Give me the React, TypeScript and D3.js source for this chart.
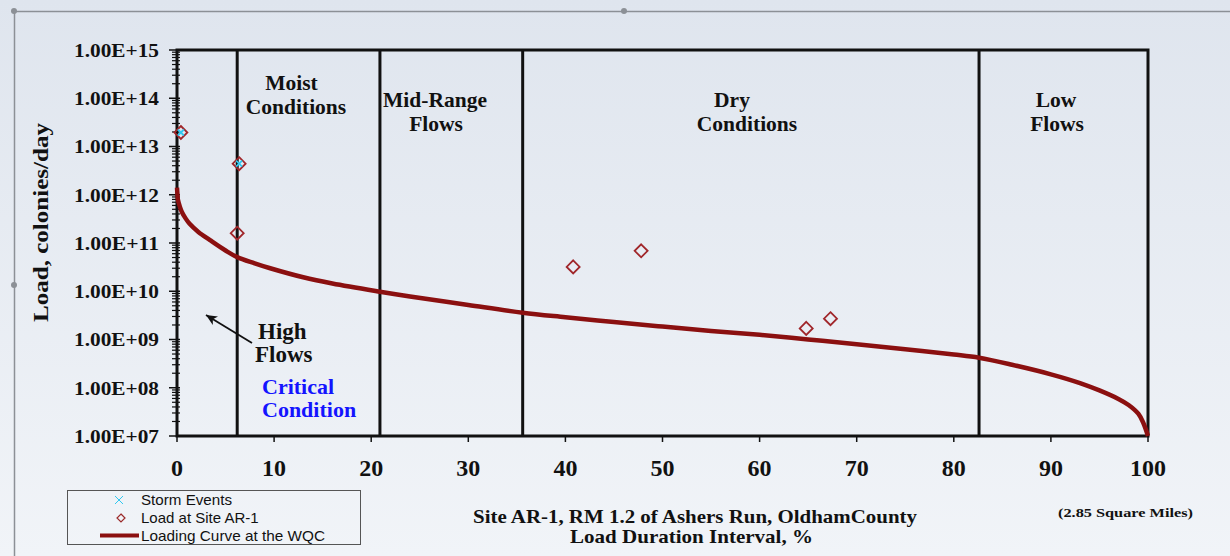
import React from "react";
import * as d3 from "d3";

const curveX = [0, 0.05, 0.1, 0.3, 0.5, 0.9, 1.3, 2.2, 3.4, 5, 6.2, 8, 9.6, 13, 16, 20.9, 24, 30, 35.6, 40, 45, 50, 55, 60, 65, 70, 75, 80, 82.6, 86, 90, 93, 95, 97, 98, 99, 99.5, 100];
const curveY = [1.4e12, 1.0e12, 7.8e11, 5.6e11, 4.4e11, 3.2e11, 2.5e11, 1.7e11, 1.15e11, 7e10, 5.1e10, 3.8e10, 3.0e10, 1.95e10, 1.45e10, 9.8e9, 7.8e9, 5.2e9, 3.6e9, 2.9e9, 2.3e9, 1.85e9, 1.5e9, 1.25e9, 1.0e9, 8e8, 6.3e8, 4.9e8, 4.2e8, 3.0e8, 1.9e8, 1.25e8, 8.8e7, 5.8e7, 4.4e7, 2.9e7, 1.9e7, 1e7];
const loadX = [0.4, 6.4, 6.2, 40.8, 47.8, 64.8, 67.3];
const loadY = [1.95e13, 4.4e12, 1.6e11, 3.2e10, 6.9e10, 1.7e9, 2.7e9];
const stormX = [0.4, 6.4];
const stormY = [1.95e13, 4.4e12];
const boundaries = [6.2, 20.9, 35.6, 82.6];
const xTicks = [0, 10, 20, 30, 40, 50, 60, 70, 80, 90, 100];
const yTicks = [1e7, 1e8, 1e9, 1e10, 1e11, 1e12, 1e13, 1e14, 1e15];

const W = 1230, H = 556;
const L = 177, R = 1148, T = 50, B = 436;

export default function App() {
  const x = d3.scaleLinear().domain([0, 100]).range([L, R]);
  const y = d3.scaleLog().domain([1e7, 1e15]).range([B, T]);
  const line = d3.line<number>().x((_, i) => x(curveX[i])).y((d) => y(d)).curve(d3.curveCatmullRom.alpha(0.5));
  const minor: number[] = [];
  for (let e = 7; e < 15; e++) for (let m = 2; m <= 9; m++) minor.push(m * Math.pow(10, e));
  const fmt = (v: number) => "1.00E+" + String(Math.round(Math.log10(v))).padStart(2, "0");
  const serif = "'Liberation Serif', 'Times New Roman', serif";
  const sans = "'Liberation Sans', Arial, sans-serif";
  const dia = (cx: number, cy: number, r: number) => `M${cx},${cy - r}L${cx + r},${cy}L${cx},${cy + r}L${cx - r},${cy}Z`;
  return (
    <svg width={W} height={H} style={{ position: "absolute", left: 0, top: 0 }} fontFamily={serif}>
      <defs>
        <linearGradient id="bg" x1="0" y1="0" x2="0" y2="1">
          <stop offset="0" stopColor="#dfe5ee" />
          <stop offset="1" stopColor="#f1f4f8" />
        </linearGradient>
        <marker id="ah" markerWidth={12} markerHeight={10} refX={11} refY={5} orient="auto" markerUnits="userSpaceOnUse">
          <path d="M11,5L0,0L3,5L0,10Z" fill="#111" />
        </marker>
      </defs>
      <rect x={0} y={0} width={W} height={H} fill="url(#bg)" />
      <line x1={14} y1={11.5} x2={W} y2={11.5} stroke="#8c9096" strokeWidth={1.5} />
      <line x1={14.5} y1={11} x2={14.5} y2={H} stroke="#8c9096" strokeWidth={1.5} />
      <circle cx={14} cy={11} r={3} fill="#8c9096" />
      <circle cx={624} cy={11} r={3} fill="#8c9096" />
      <circle cx={14} cy={285} r={3} fill="#8c9096" />

      {/* plot frame */}
      <rect x={L} y={T} width={R - L} height={B - T} fill="none" stroke="#111" strokeWidth={3} />
      {boundaries.map((b) => (
        <line key={b} x1={x(b)} x2={x(b)} y1={T} y2={B} stroke="#111" strokeWidth={3} />
      ))}
      {/* y ticks */}
      {minor.map((m) => (
        <line key={m} x1={L - 5} x2={L + 3} y1={y(m)} y2={y(m)} stroke="#111" strokeWidth={1.2} />
      ))}
      {yTicks.map((t) => (
        <g key={t}>
          <line x1={L - 8} x2={L + 3} y1={y(t)} y2={y(t)} stroke="#111" strokeWidth={1.5} />
          <text x={159} y={y(t)} dy="0.35em" textAnchor="end" fontWeight="bold" fontSize={19.5} textLength={85} lengthAdjust="spacingAndGlyphs" fill="#111">{fmt(t)}</text>
        </g>
      ))}
      {xTicks.map((t) => (
        <g key={t}>
          <line x1={x(t)} x2={x(t)} y1={B} y2={B + 6} stroke="#111" strokeWidth={1.5} />
          <text x={x(t)} y={476} textAnchor="middle" fontWeight="bold" fontSize={24} fill="#111">{t}</text>
        </g>
      ))}
      <text transform="translate(48,222.5) rotate(-90)" textAnchor="middle" fontWeight="bold" fontSize={22} textLength={199} lengthAdjust="spacingAndGlyphs" fill="#111">Load, colonies/day</text>

      {/* region labels */}
      <g fontWeight="bold" fontSize={21.5} fill="#111" textAnchor="middle">
        <text x={291.5} y={90}>Moist</text>
        <text x={296} y={114}>Conditions</text>
        <text x={435} y={107}>Mid-Range</text>
        <text x={436} y={131}>Flows</text>
        <text x={732} y={107}>Dry</text>
        <text x={747} y={131}>Conditions</text>
        <text x={1056} y={107}>Low</text>
        <text x={1057} y={131}>Flows</text>
      </g>
      <g fontWeight="bold" fontSize={23} fill="#111">
        <text x={258} y={339}>High</text>
        <text x={255} y={362}>Flows</text>
      </g>
      <g fontWeight="bold" fontSize={22} fill="#1414ff">
        <text x={262} y={394}>Critical</text>
        <text x={262} y={417}>Condition</text>
      </g>
      <line x1={252} y1={343} x2={206} y2={315} stroke="#111" strokeWidth={1.8} markerEnd="url(#ah)" />

      {/* curve */}
      <path d={line(curveY) || ""} fill="none" stroke="#8b1010" strokeWidth={4.5} strokeLinejoin="round" />
      {loadX.map((v, i) => (
        <path key={i} d={dia(x(v), y(loadY[i]), 6.5)} fill="none" stroke="#a0262a" strokeWidth={1.8} />
      ))}
      {stormX.map((v, i) => (
        <g key={i} stroke="#30c8f0" strokeWidth={1.8}>
          <line x1={x(v) - 3} x2={x(v) + 3} y1={y(stormY[i]) - 3} y2={y(stormY[i]) + 3} />
          <line x1={x(v) - 3} x2={x(v) + 3} y1={y(stormY[i]) + 3} y2={y(stormY[i]) - 3} />
        </g>
      ))}

      {/* legend */}
      <rect x={67.5} y={490.5} width={293} height={54} fill="none" stroke="#555" strokeWidth={1} />
      <g fontFamily={sans} fontSize={15} fill="#111">
        <g stroke="#30c8f0" strokeWidth={1}>
          <line x1={115} x2={123} y1={496} y2={504} />
          <line x1={115} x2={123} y1={504} y2={496} />
        </g>
        <text x={141} y={505} textLength={91} lengthAdjust="spacingAndGlyphs">Storm Events</text>
        <path d={dia(121, 518, 4)} fill="none" stroke="#9b2a2a" strokeWidth={1.2} />
        <text x={141} y={523}>Load at Site AR-1</text>
        <line x1={100} x2={139} y1={535.5} y2={535.5} stroke="#8b1010" strokeWidth={4} />
        <text x={141} y={541} textLength={184} lengthAdjust="spacingAndGlyphs">Loading Curve at the WQC</text>
      </g>

      <g fontSize={19} fontWeight="bold" fill="#111" textAnchor="middle">
        <text x={695} y={523} textLength={444} lengthAdjust="spacingAndGlyphs">Site AR-1, RM 1.2 of Ashers Run, OldhamCounty</text>
        <text x={691.5} y={543} textLength={243} lengthAdjust="spacingAndGlyphs">Load Duration Interval, %</text>
      </g>
      <text x={1125.5} y={517} textAnchor="middle" fontWeight="bold" fontSize={13} textLength={135} lengthAdjust="spacingAndGlyphs" fill="#111">(2.85 Square Miles)</text>
    </svg>
  );
}
